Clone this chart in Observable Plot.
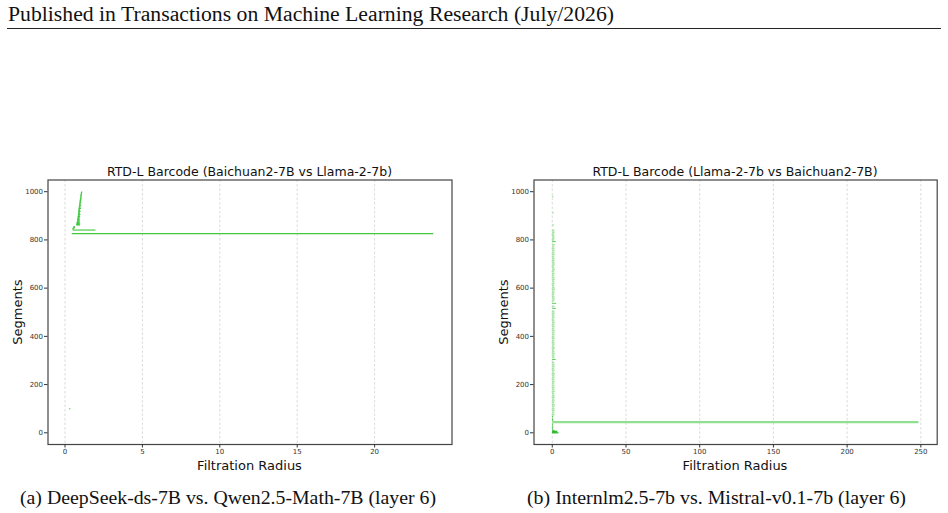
<!DOCTYPE html>
<html><head><meta charset="utf-8">
<script src="https://cdn.jsdelivr.net/npm/d3@7"></script>
<script src="https://cdn.jsdelivr.net/npm/@observablehq/plot@0.6"></script>
<style>
html,body{margin:0;padding:0;background:#fff;width:948px;height:513px;overflow:hidden;}
#page{position:relative;width:948px;height:513px;}
.t{position:absolute;white-space:nowrap;line-height:1;}
.serif{font-family:"Liberation Serif","DejaVu Serif",serif;color:#111;}
.sans{font-family:"DejaVu Sans",sans-serif;color:#111;}
.c{transform:translate(-50%,-50%);}
.plot{position:absolute;}
</style></head><body><div id="page"></div>
<script>
// ---------- data ----------
const headerText = "Published in Transactions on Machine Learning Research (July/2026)";
const titles = ["RTD-L Barcode (Baichuan2-7B vs Llama-2-7b)", "RTD-L Barcode (Llama-2-7b vs Baichuan2-7B)"];
const captions = ["(a) DeepSeek-ds-7B vs. Qwen2.5-Math-7B (layer 6)", "(b) Internlm2.5-7b vs. Mistral-v0.1-7b (layer 6)"];
const xLabel = "Filtration Radius";
const yLabel = "Segments";
const yTicks = [0, 200, 400, 600, 800, 1000];
const leftXTicks = [0, 5, 10, 15, 20];
const rightXTicks = [0, 50, 100, 150, 200, 250];

// [segment index, birth, death]
const leftSegments = [
  [100, 0.30, 0.38],
  [826, 0.47, 23.82],
  [841, 0.52, 2.00],
  [846, 0.50, 0.62], [849, 0.53, 0.64], [852, 0.55, 0.66], [855, 0.58, 0.68],
  [862, 0.76, 1.00], [864, 0.77, 0.95], [866, 0.76, 1.02], [868, 0.78, 0.97],
  [870, 0.78, 0.92], [873, 0.79, 0.99], [876, 0.80, 0.94], [879, 0.81, 1.00],
  [882, 0.82, 0.95], [885, 0.82, 0.97], [888, 0.83, 0.96], [891, 0.84, 0.99],
  [894, 0.84, 0.95], [897, 0.85, 1.01], [900, 0.86, 0.97], [903, 0.86, 0.99],
  [906, 0.87, 1.03], [909, 0.87, 0.98], [912, 0.88, 1.00], [915, 0.88, 0.98],
  [918, 0.89, 1.04], [921, 0.89, 1.00], [924, 0.90, 1.01], [927, 0.90, 1.00],
  [930, 0.91, 1.06], [933, 0.92, 1.02], [936, 0.92, 1.03], [939, 0.93, 1.02],
  [942, 0.93, 1.07], [945, 0.94, 1.03], [948, 0.95, 1.05], [951, 0.95, 1.04],
  [954, 0.96, 1.08], [957, 0.97, 1.06], [960, 0.97, 1.07], [963, 0.98, 1.07],
  [966, 0.99, 1.10], [969, 0.99, 1.08], [972, 1.00, 1.09], [975, 1.01, 1.09],
  [978, 1.01, 1.12], [981, 1.02, 1.10], [984, 1.03, 1.11], [987, 1.03, 1.11],
  [990, 1.04, 1.13], [993, 1.05, 1.12], [996, 1.06, 1.14], [999, 1.07, 1.14]
];

const rightLongBar = [[44, 0.5, 248.7]];
const rightBottomSegments = [
  [0, 0.3, 4.5], [2, 0.3, 3.2], [4, 0.4, 2.6], [6, 0.3, 3.8], [8, 0.4, 2.0],
  [12, 0.3, 1.0], [18, 0.4, 0.9], [24, 0.3, 1.0], [30, 0.4, 0.8], [36, 0.3, 0.9],
  [50, 0.4, 0.9], [56, 0.3, 1.0], [62, 0.4, 0.8], [68, 0.3, 0.9]
];
const rightStackSegments = [
  [76, 0.0, 1.9], [84, 0.2, 1.6], [92, 0.1, 2.0], [100, 0.0, 1.8], [108, 0.2, 1.7],
  [116, 0.1, 2.1], [124, 0.0, 1.6], [132, 0.2, 1.9], [140, 0.1, 1.7], [148, 0.0, 2.0],
  [156, 0.2, 1.8], [164, 0.1, 1.6], [172, 0.0, 2.1], [180, 0.2, 1.7], [188, 0.1, 1.9],
  [196, 0.0, 1.8], [204, 0.2, 1.6], [212, 0.1, 2.0], [220, 0.0, 1.7], [228, 0.2, 1.9],
  [236, 0.1, 1.8], [244, 0.0, 2.1], [252, 0.2, 1.6], [260, 0.1, 1.9], [268, 0.0, 1.7],
  [276, 0.2, 2.0], [284, 0.1, 1.8], [292, 0.0, 1.6], [312, 0.2, 1.9], [320, 0.1, 1.7],
  [328, 0.0, 2.0], [336, 0.2, 1.8], [344, 0.1, 1.6], [352, 0.0, 2.1], [360, 0.2, 1.7],
  [368, 0.1, 1.9], [376, 0.0, 1.8], [384, 0.2, 1.6], [392, 0.1, 2.0], [400, 0.0, 1.7],
  [408, 0.2, 1.9], [416, 0.1, 1.8], [424, 0.0, 2.1], [432, 0.2, 1.6], [440, 0.1, 1.9],
  [448, 0.0, 1.7], [456, 0.2, 2.0], [464, 0.1, 1.8], [472, 0.0, 1.6], [480, 0.2, 1.9],
  [488, 0.1, 1.7], [496, 0.0, 2.0], [504, 0.2, 1.8], [524, 0.1, 1.9], [548, 0.0, 1.7],
  [556, 0.2, 2.0], [564, 0.1, 1.8], [572, 0.0, 1.6], [580, 0.2, 1.9], [588, 0.1, 1.7],
  [596, 0.0, 2.1], [604, 0.2, 1.8], [612, 0.1, 1.6], [620, 0.0, 1.9], [628, 0.2, 1.7],
  [636, 0.1, 2.0], [644, 0.0, 1.8], [652, 0.2, 1.6], [660, 0.1, 1.9], [668, 0.0, 1.7],
  [676, 0.2, 2.0], [684, 0.1, 1.8], [692, 0.0, 1.6], [700, 0.2, 2.1], [708, 0.1, 1.7],
  [716, 0.0, 1.9], [724, 0.2, 1.8], [732, 0.1, 1.6], [740, 0.0, 2.0], [748, 0.2, 1.7],
  [756, 0.1, 1.9], [764, 0.0, 1.8], [772, 0.2, 1.6], [780, 0.1, 2.0], [800, 0.0, 1.7],
  [808, 0.2, 1.9], [816, 0.1, 1.8], [824, 0.0, 1.6], [832, 0.2, 1.9], [840, 0.1, 1.7],
  [862, 0.3, 1.4], [912, 0.4, 1.2], [980, 0.3, 1.2]
];
const rightAccentSegments = [[304, 0.2, 2.6], [516, 0.3, 2.8], [537, 0.2, 3.0], [793, 0.2, 2.8]];

// ---------- drawing ----------
const page = document.getElementById("page");
function addText(txt, cls, x, y, extra = {}) {
  const d = document.createElement("div");
  d.className = "t " + cls;
  d.textContent = txt;
  d.style.left = x + "px";
  d.style.top = y + "px";
  Object.assign(d.style, extra);
  page.appendChild(d);
  return d;
}
function fitWidth(el, w) {
  const r = el.getBoundingClientRect().width;
  el.style.transformOrigin = "0 0";
  el.style.transform = `scaleX(${w / r})`;
}

const seg = {y: d => d[0], x1: d => d[1], x2: d => d[2]};
const yDomain = [-48.5, 1048.5];

function barcode({xDomain, xTicks, width, marginLeft, marginRight, layers}) {
  return Plot.plot({
    width, height: 330,
    marginLeft, marginRight, marginTop: 29.5, marginBottom: 36,
    style: {fontFamily: "DejaVu Sans, sans-serif", fontSize: "7px", color: "#333", background: "transparent"},
    x: {domain: xDomain},
    y: {domain: yDomain},
    marks: [
      Plot.gridX({ticks: xTicks, stroke: "#d2d2d2", strokeOpacity: 1, strokeWidth: 0.8, strokeDasharray: "2.5,2"}),
      ...layers.map(l => Plot.ruleY(l.data, {...seg, stroke: l.color, strokeWidth: l.width})),
      Plot.frame({stroke: "#444", strokeWidth: 1.2}),
      Plot.axisX({ticks: xTicks, tickSize: 3.5, tickPadding: 1.5, tickFormat: "d", label: null, fontSize: 7}),
      Plot.axisY({ticks: yTicks, tickSize: 3.5, tickPadding: 1.5, tickFormat: "d", label: null, fontSize: 7})
    ]
  });
}

const left = barcode({
  xDomain: [-1.1, 25.0], xTicks: leftXTicks, width: 470, marginLeft: 47.5, marginRight: 18.5,
  layers: [{data: leftSegments, color: "#3ec83e", width: 1.1}]
});
left.classList.add("plot"); left.style.left = "0px"; left.style.top = "150px";
page.appendChild(left);

const right = barcode({
  xDomain: [-12.4, 261.1], xTicks: rightXTicks, width: 458, marginLeft: 43.5, marginRight: 11.3,
  layers: [
    {data: rightStackSegments, color: "#a6e3a6", width: 1.6},
    {data: rightAccentSegments, color: "#5ccf5c", width: 1},
    {data: rightLongBar, color: "#8fe08f", width: 2.2},
    {data: rightBottomSegments, color: "#2fba2f", width: 1.3}
  ]
});
right.classList.add("plot"); right.style.left = "490px"; right.style.top = "150px";
page.appendChild(right);

// header and rule
const h = addText(headerText, "serif", 8, 4, {fontSize: "20px"});
fitWidth(h, 606);
const rule = document.createElement("div");
Object.assign(rule.style, {position: "absolute", left: "7px", top: "27.5px", width: "934px", height: "1.4px", background: "#222"});
page.appendChild(rule);

// titles and axis labels
const centers = [249.5, 735];
titles.forEach((t, i) => addText(t, "sans c", centers[i], 171.5, {fontSize: "12.5px"}));
centers.forEach(cx => addText(xLabel, "sans c", cx, 464.5, {fontSize: "13px"}));
[17, 503].forEach(cx => addText(yLabel, "sans c", cx, 312, {fontSize: "13px", transform: "translate(-50%,-50%) rotate(-90deg)"}));

// captions
const ca = addText(captions[0], "serif", 20, 489, {fontSize: "18px"});
fitWidth(ca, 416);
const cb = addText(captions[1], "serif", 527, 489, {fontSize: "18px"});
fitWidth(cb, 379);
</script></body></html>
